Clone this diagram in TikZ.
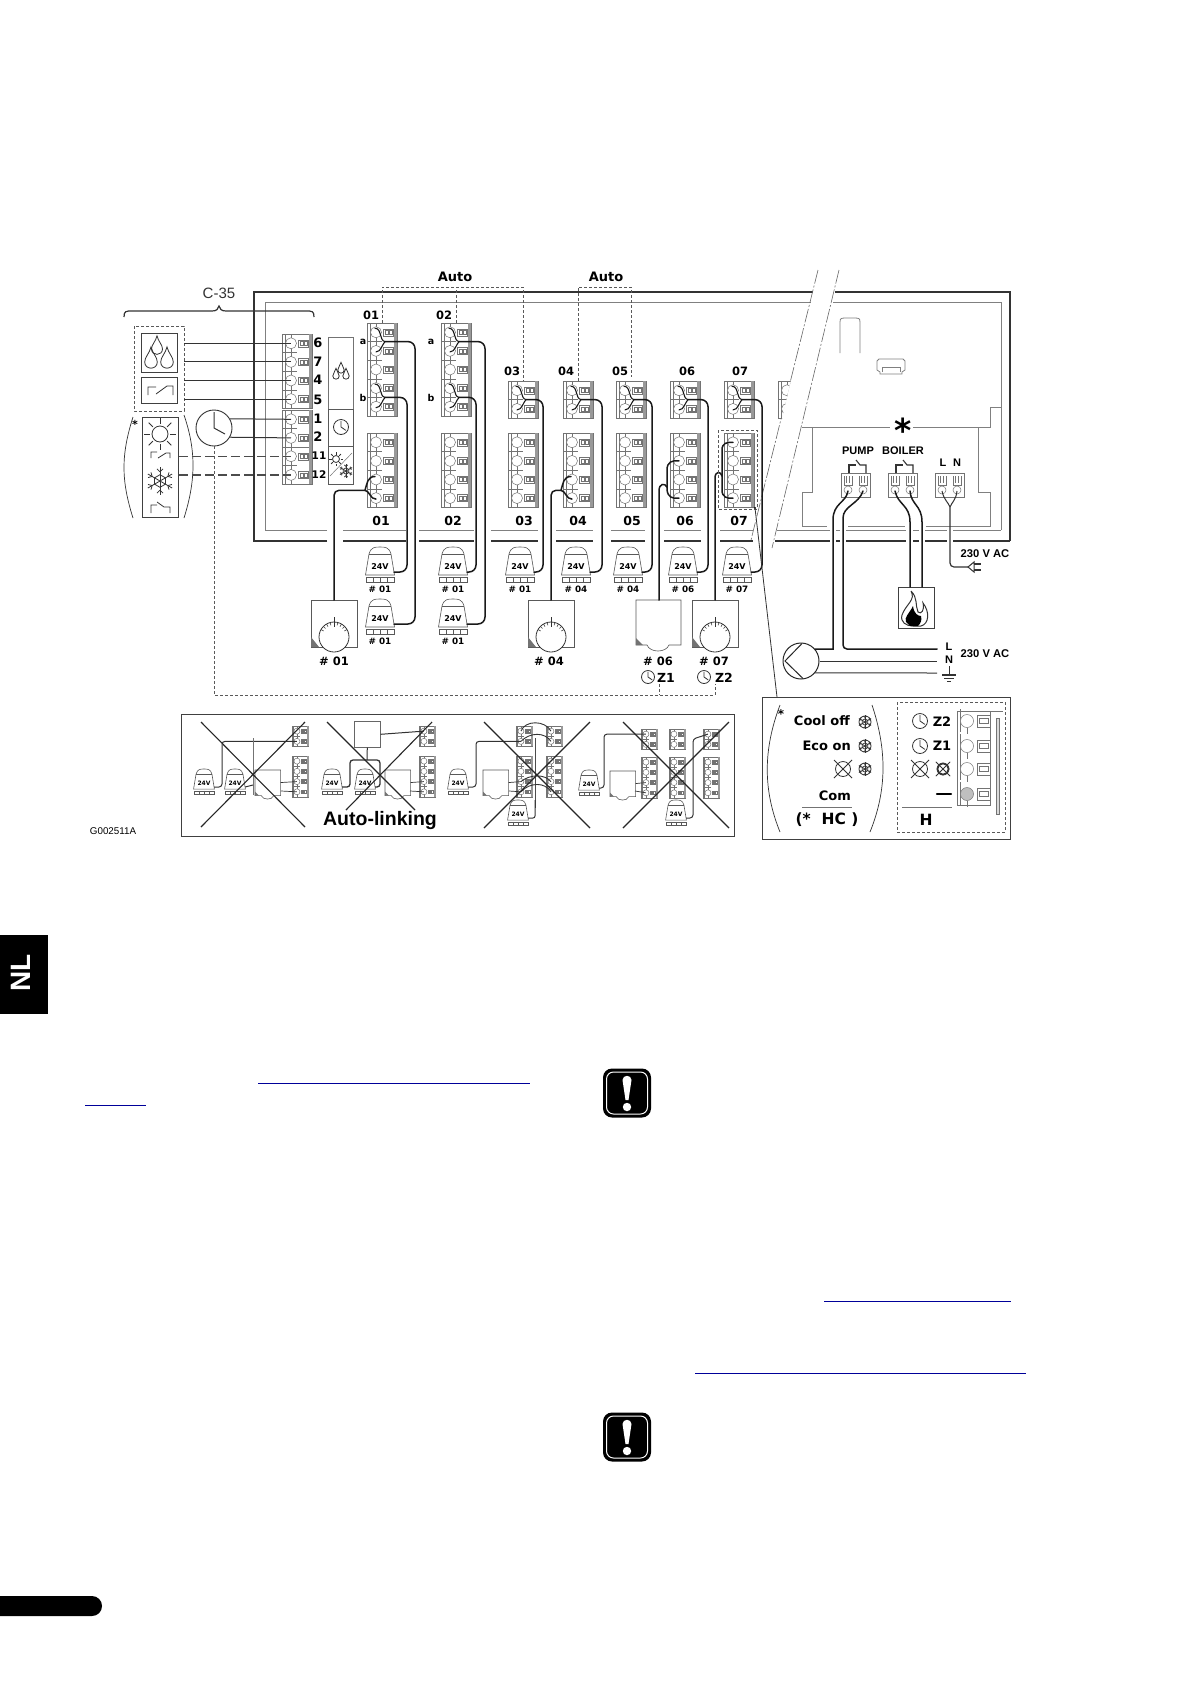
\documentclass[tikz,border=0pt]{standalone}
\usepackage{fontspec}
\setmainfont{DejaVu Sans}
\newfontfamily\libf{Liberation Sans}
\usetikzlibrary{calc}
\newcommand\fb[1]{\fontsize{#1}{#1}\selectfont\bfseries}
\newcommand\fl[1]{\libf\fontsize{#1}{#1}\selectfont\bfseries}
\newcommand\lbl[5]{\node[inner sep=0pt,font=#4] (#1) at (#2,#3) {#5};}
\tikzset{
 tb/.style={draw=black!55,line width=.5pt},
 wire/.style={draw=black!90,line width=1.5pt,line cap=round},
 thinw/.style={draw=black!80,line width=1pt},
 sym/.style={draw=black!80,line width=.8pt},
 act/.style={draw=black!65,line width=.6pt},
 frameo/.style={draw=black!80,line width=1.2pt},
 framei/.style={draw=black!50,line width=.8pt},
 dsh/.style={draw=black!65,line width=.6pt,dash pattern=on 3pt off 2pt},
 ddsh/.style={draw=black!70,line width=1.2pt,dash pattern=on 9pt off 4pt},
 ddot/.style={draw=black!60,line width=.6pt,dash pattern=on 14pt off 2pt on 2pt off 2pt},
 boxn/.style={draw=black!75,line width=.9pt,inner sep=0pt,anchor=north west},
 xline/.style={draw=black!85,line width=1.1pt},
 link/.style={draw=blue!60!black,line width=.9pt},
}
% name, x, y, ports, scale
\newcommand\termblock[5]{%
\begin{scope}[shift={(#2,#3)},x=#5pt,y=-#5pt]
\pgfmathsetmacro\hh{#4*18.6}
\draw[tb,fill=white] (0,0) rectangle (30,\hh);
\fill[black!40] (27,0) rectangle (30,\hh);
\draw[tb] (3,0) -- (3,\hh);
\coordinate (#1-n) at (15,0);
\foreach \i in {1,...,#4}{
 \pgfmathsetmacro\yy{(\i-.5)*18.6}
 \draw[tb] (0,\yy-9.3) -- (15,\yy-9.3);
 \draw[tb] (9,\yy-9.3) -- (9,\yy+9.3);
 \draw[tb,fill=white] (9,\yy) circle (5.5);
 \draw[tb] (16,\yy-3.5) rectangle (26,\yy+3.5);
 \draw[tb] (18,\yy-2) rectangle (21,\yy+2);
 \draw[tb] (22,\yy-2) rectangle (25,\yy+2);
 \coordinate (#1-\i) at (9,\yy);
}
\end{scope}}
% upper port, lower port, merge coordinate name: fork opening to the right
\newcommand\yfork[3]{%
\coordinate (#3) at ($(#1)!.5!(#2)+(9,0)$);
\draw[wire,line width=1.1pt] ($(#1)+(-1,-4)$) .. controls ($(#1)+(6,-4)$) and ($(#3)+(-6,-1)$) .. (#3);
\draw[wire,line width=1.1pt] ($(#2)+(0,1)$) .. controls ($(#2)+(5,1)$) and ($(#3)+(-3,3)$) .. (#3);}
% upper port, lower port, fork coordinate name: fork opening from the left
\newcommand\lfork[3]{%
\coordinate (#3) at ($(#1)!.5!(#2)+(-11,1.5)$);
\draw[wire] (#3) .. controls ($(#3)+(2,-6)$) and ($(#1)+(-9,-3)$) .. ($(#1)+(-1,-3)$);
\draw[wire] (#3) .. controls ($(#3)+(5,1)$) and ($(#2)+(-6,1)$) .. ($(#2)+(0,1)$);}
% name, cx, top, label, scale, font size
\newcommand\actuator[6]{%
\begin{scope}[shift={(#2,#3)},x=#5pt,y=-#5pt]
\draw[act,fill=white] (-14.5,28) -- (-11,7) .. controls (-9,0) and (-5,0) .. (0,0) .. controls (5,0) and (9,0) .. (11,7) -- (14.5,28) -- cycle;
\draw[act] (-11,7) -- (11,7);
\lbl{#1-v}{0}{19.5}{\fb{#6}}{24V}
\draw[act] (-14,30.5) rectangle (14,35.5);
\foreach \d in {-7,0,7}{\draw[act] (\d,30.5) -- (\d,35.5);}
\coordinate (#1-e) at (14,25);
\lbl{#1-l}{0}{42}{\fb{8.8}}{#4}
\end{scope}}
% name, x, y
\newcommand\thermostat[3]{%
\begin{scope}[shift={(#2,#3)}]
\draw[act,fill=white] (0,0) rectangle (46,47);
\fill[black!55] (0,47) -- (0,37) -- (8,47) -- cycle;
\draw[sym,fill=white] (23,37) circle (15);
\foreach \a in {-150,-135,...,-30}{\draw[draw=black!75,line width=.6pt] (23,37) ++(\a:12) -- ++(\a:3);}
\draw[sym] (23,17) -- (23,27);
\coordinate (#1-n) at (23,0);
\end{scope}}
% name, x, y, scale
\newcommand\bumpbox[4]{%
\begin{scope}[shift={(#2,#3)},x=#4pt,y=-#4pt]
\draw[act,fill=white] (0,0) -- (45,0) -- (45,45) -- (33,45) .. controls (30,53) and (14,53) .. (11,45) -- (0,45) -- cycle;
\fill[black!55] (0,45) -- (0,38) -- (7,45) -- cycle;
\coordinate (#1-n) at (23,0);
\coordinate (#1-e) at (45,22);
\end{scope}}
\newcommand\drop[3]{%
\begin{scope}[shift={(#1,#2)},x=#3pt,y=-#3pt]
\draw[sym] (0,-2.4) .. controls (.2,-1.4) and (1,-.8) .. (1,0) .. controls (1,1.3) and (-1,1.3) .. (-1,0) .. controls (-1,-.8) and (-.2,-1.4) .. cycle;
\end{scope}}
\newcommand\sunicon[5]{%
\draw[sym] (#1,#2) circle (#3);
\foreach \a in {0,45,...,315}{\draw[sym] (#1,#2) ++(\a:#4) -- ++(\a:#5-#4);}}
\newcommand\flake[3]{%
\begin{scope}[shift={(#1,#2)},x=#3pt,y=-#3pt]
\foreach \a in {30,90,...,330}{
 \draw[sym] (0,0) -- (\a:1);
 \draw[sym] (\a:.65) -- ++(\a+45:.3);
 \draw[sym] (\a:.65) -- ++(\a-45:.3);
}
\draw[sym] (30:.45) -- (90:.45) -- (150:.45) -- (210:.45) -- (270:.45) -- (330:.45) -- cycle;
\end{scope}}
\newcommand\clockicon[3]{%
\draw[sym] (#1,#2) circle (#3);
\draw[sym] (#1,#2) ++(0,-.8*#3) -- (#1,#2) -- ++(.65*#3,.45*#3);}
\newcommand\xcircle[3]{%
\draw[sym] (#1,#2) circle (#3);
\draw[sym] (#1,#2) ++(-1.2*#3,1.2*#3) -- ++(2.4*#3,-2.4*#3);
\draw[sym] (#1,#2) ++(-1.2*#3,-1.2*#3) -- ++(2.4*#3,2.4*#3);}
\newcommand\warnicon[2]{%
\begin{scope}[shift={(#1,#2)}]
\fill[black,rounded corners=9pt] (-24,-24.5) rectangle (24,24.5);
\draw[white,line width=1pt,rounded corners=7pt] (-20.5,-21) rectangle (20.5,21);
\fill[white] (-4.5,-13) .. controls (-4.5,-18.5) and (4.5,-18.5) .. (4.5,-13) -- (1.5,7) -- (-1.5,7) -- cycle;
\fill[white] (0,14) circle (4.2);
\end{scope}}
% name, x, y
\newcommand\relterm[3]{%
\begin{scope}[shift={(#2,#3)}]
\draw[tb,line width=.7pt] (0,0) rectangle (29,24.5);
\draw[tb] (3,3) -- (3,12) -- (11,12) -- (11,3) (5.5,3) -- (5.5,10) (8.5,3) -- (8.5,10);
\draw[tb] (18,3) -- (18,12) -- (26,12) -- (26,3) (20.5,3) -- (20.5,10) (23.5,3) -- (23.5,10);
\draw[tb,fill=white] (7,17) circle (4);
\draw[tb,fill=white] (22,17) circle (4);
\coordinate (#1-1) at (7,18);
\coordinate (#1-2) at (22,18);
\end{scope}}
\newcommand\relsw[1]{%
\begin{scope}[shift={(#1,473)}]
\draw[sym,line width=1.1pt] (8,0) -- (8,-8) -- (15,-8);
\draw[sym,line width=1.1pt] (15,-13) -- (19,-8) -- (25,-8) -- (25,0);
\end{scope}}
\begin{document}
\begin{tikzpicture}[x=1pt,y=-1pt]
\useasboundingbox (0,0) rectangle (1190,1684);
\fill[white] (0,0) rectangle (1190,1684);
%%% outer page furniture
\fill[black] (0,935) rectangle (48,1014);
\node[inner sep=0pt,rotate=90,text=white,font=\fl{28}] (nltab) at (21,973) {NL};
\draw[link] (258,1083) -- (530,1083);
\draw[link] (85,1105) -- (146,1105);
\draw[link] (824,1301) -- (1011,1301);
\draw[link] (695,1373) -- (1026,1373);
\warnicon{627}{1093}
\warnicon{627}{1437}
\fill[black,rounded corners=9.9pt] (-20,1596) rectangle (102,1616);
%%% frames
\draw[frameo] (327,541) -- (254,541) -- (254,292) -- (813,292);
\draw[framei] (327,530) -- (265,530) -- (265,302) -- (811,302);
\draw[frameo] (835,292) -- (1010,292) -- (1010,541);
\draw[framei] (833,302) -- (1001,302) -- (1001,530);
\foreach \a/\b in {343/406,419/474,491/538,556/593,611/645,664/701,720/753,775/830,836/840,846/906,913/919,925/947,953/1010}{
 \draw[frameo] (\a,541) -- (\b,541);
}
\foreach \a/\b in {343/406,419/474,491/538,556/593,611/645,664/701,720/753,777/830,836/840,846/906,913/919,925/947,953/1001}{
 \draw[framei] (\a,530) -- (\b,530);
}
%%% right interior
\draw[framei] (802,427) -- (890,427);
\draw[framei] (913,427) -- (990,427) -- (990,407) -- (1001,407);
\draw[framei] (812,427) -- (812,492) -- (802,492) -- (802,526) -- (827,526);
\draw[framei] (848,526) -- (905,526) (926,526) -- (990,526) -- (990,492) -- (978,492) -- (978,427);
\draw[framei] (840,353) -- (840,322) .. controls (840,318) and (842,318) .. (844,318) -- (856,318) .. controls (858,318) and (860,318) .. (860,322) -- (860,353);
\draw[framei] (880,374) -- (880,372) -- (877,370) -- (877,361) -- (879,359) -- (903,359) -- (905,361) -- (905,370) -- (902,372) -- (902,374) -- cycle;
\draw[framei] (882,372) -- (882,367) -- (900,367) -- (900,372);
\draw[ddot] (818,270) -- (751,540);
\draw[ddot] (839,270) -- (772,548);
\lbl{bigstar}{903}{430.5}{\fb{33}}{*}
\lbl{lpump}{858}{451}{\fl{11}}{PUMP}
\lbl{lboiler}{903}{451}{\fl{11}}{BOILER}
\lbl{lL}{943}{463}{\fl{11}}{L}
\lbl{lN}{957}{463}{\fl{11}}{N}
\relterm{rp}{841}{473}
\relterm{rb}{888}{473}
\relterm{rl}{935}{473}
\relsw{841}
\relsw{888}
%%% boiler
\node[boxn,minimum width=36pt,minimum height=41pt] (boiler) at (898,587) {};
\draw[sym,line width=1pt,fill=white] (911,591) .. controls (916,600) and (906,604) .. (902,615) .. controls (900,622) and (906,626) .. (913,626) -- (921,626) .. controls (929,624) and (930,612) .. (923,603) .. controls (925,610) and (921,615) .. (918,612) .. controls (915,605) and (918,598) .. (911,591);
\fill[black] (906,622) .. controls (904,617) and (909,614) .. (913,606) .. controls (914,614) and (918,616) .. (921,616) .. controls (922,620) and (921,623) .. (918,626) -- (910,626) -- cycle;
\draw[wire] (rb-1) .. controls (898,505) and (910,505) .. (910,522) -- (boiler.north west -| 910,0);
\draw[wire] (rb-2) .. controls (911,505) and (922,505) .. (922,522) -- (boiler.north west -| 922,0);
%%% pump
\node[draw=black!85,line width=1pt,circle,inner sep=0pt,minimum size=36pt] (pumpc) at (801,661) {};
\draw[black!85,line width=1pt] (802,643.5) -- (785,661) -- (803,678.5);
\coordinate (lineL) at (937,649);
\coordinate (lineN) at (937,661);
\coordinate (lineE) at (937,673);
\draw[wire] (rp-1) .. controls (846,503) and (833,503) .. (833,520) |- (pumpc.40);
\draw[wire,rounded corners=4pt] (rp-2) .. controls (859,504) and (843,506) .. (843,522) |- (lineL);
\draw[thinw] (pumpc.east) -- (lineN);
\draw[thinw] (pumpc.-40) -- (lineE);
\lbl{mL}{949}{647}{\fl{11}}{L}
\lbl{mN}{949}{660}{\fl{11}}{N}
\draw[thinw] (949,666) -- (949,675);
\draw[thinw,line width=1.3pt] (942,675) -- (956,675);
\draw[thinw] (944,678) -- (954,678);
\draw[thinw] (947,681) -- (951,681);
\lbl{v230b}{985}{654}{\fl{11.2}}{230 V AC}
\lbl{v230a}{985}{554}{\fl{11.2}}{230 V AC}
%%% mains plug
\coordinate (lnm) at (950,507);
\coordinate (plug) at (968,567);
\draw[thinw] (rl-1) .. controls (944,500) and (948,502) .. (lnm);
\draw[thinw] (rl-2) .. controls (956,500) and (952,502) .. (lnm);
\draw[thinw,line width=1.2pt,rounded corners=4pt] (lnm) |- (plug);
\draw[thinw,fill=white] (plug) -- (974,562) -- (974,572) -- cycle;
\draw[thinw,line width=1.2pt] (974,564) -- (981,564) (974,570) -- (981,570);
%%% left side
\draw[dsh] (134,326) rectangle (184,411);
\coordinate (dashe) at (184,343);
\node[boxn,minimum width=36pt,minimum height=39pt] (bxdrop) at (141,333) {};
\drop{157}{349}{5.5}
\drop{151}{362}{6.3}
\drop{167}{362}{6.3}
\node[boxn,minimum width=36pt,minimum height=26pt] (bxsw) at (141,377) {};
\draw[sym] (148,395) -- (148,387) -- (156,387) (156,394) -- (167,386) -- (173,386) -- (173,395);
\node[boxn,minimum width=36pt,minimum height=100pt] (bxcool) at (142,417) {};
\sunicon{160}{434}{8}{10}{16}
\draw[sym] (151,458) -- (151,452) -- (157,452) (158,458) -- (166,453) -- (170,453) -- (170,458);
\flake{160}{481}{14}
\draw[sym] (151,513) -- (151,505) -- (157,505) (157,502) -- (164,507) -- (170,507) -- (170,513);
\draw[thinw,line width=.7pt] (133,518) .. controls (121,480) and (121,455) .. (133,417);
\draw[thinw,line width=.7pt] (184,518) .. controls (196,480) and (196,450) .. (184,415);
\lbl{lstarl}{135}{424}{\fb{11}}{*}
\node[draw=black!80,line width=.9pt,circle,inner sep=0pt,minimum size=36pt] (clk) at (214,428) {};
\draw[sym,line width=1pt] (214,412) -- (214,428) -- (225,434);
\lbl{c35}{219}{293}{\libf\fontsize{15}{15}\selectfont\color{black!80}}{C-35}
\draw[thinw,line width=1.2pt] (124,317) .. controls (124,311) and (126,311) .. (132,311) -- (212,311) .. controls (217,311) and (218,309) .. (219,306) .. controls (220,309) and (221,311) .. (226,311) -- (306,311) .. controls (312,311) and (314,311) .. (314,317);
\termblock{tl1}{282}{334}{4}{1}
\termblock{tl2}{282}{410}{2}{1}
\termblock{tl3}{282}{447}{2}{1}
\draw[thinw] (tl1-1 -| dashe) -- (tl1-1);
\draw[thinw] (tl1-2 -| dashe) -- (tl1-2);
\draw[thinw] (tl1-3 -| dashe) -- (tl1-3);
\draw[thinw,line width=.6pt] (tl1-4 -| dashe) -- (tl1-4);
\draw[thinw] (clk.30) -- (tl2-1);
\draw[thinw] (clk.-30) -- (tl2-2);
\draw[ddsh] (tl3-1 -| bxcool.east) -- (tl3-1);
\draw[ddsh] (tl3-2 -| bxcool.east) -- (tl3-2);
\lbl{n6}{318}{343}{\fb{13}}{6}
\lbl{n7}{318}{362}{\fb{13}}{7}
\lbl{n4}{318}{380}{\fb{13}}{4}
\lbl{n5}{318}{400}{\fb{13}}{5}
\lbl{n1}{318}{419}{\fb{13}}{1}
\lbl{n2}{318}{437}{\fb{13}}{2}
\lbl{n11}{319}{456}{\fb{10.5}}{11}
\lbl{n12}{319}{475}{\fb{10.5}}{12}
\draw[tb,line width=.7pt] (328,337) rectangle (353,409);
\draw[act,line width=.8pt] (328,409) rectangle (353,446);
\draw[act,line width=.6pt] (328,446) rectangle (353,484);
\drop{341}{370}{3.2}
\drop{336}{376}{3.2}
\drop{346}{376}{3.2}
\clockicon{341}{427}{7.5}
\sunicon{336}{459}{3.5}{4.5}{7}
\flake{346}{471}{7}
\draw[tb] (330,476) -- (352,453);
%%% dashed auto links
\lbl{auto1}{455}{277}{\fb{13}}{Auto}
\lbl{auto2}{606}{277}{\fb{13}}{Auto}
%%% terminal blocks
\termblock{ta1}{367}{323}{5}{1}
\termblock{ta2}{441}{323}{5}{1}
\termblock{tc1}{367}{433}{4}{1}
\termblock{tc2}{441}{433}{4}{1}
\termblock{tu3}{508}{381}{2}{1}\termblock{tc3}{508}{433}{4}{1}
\termblock{tu4}{563}{381}{2}{1}\termblock{tc4}{563}{433}{4}{1}
\termblock{tu5}{616}{381}{2}{1}\termblock{tc5}{616}{433}{4}{1}
\termblock{tu6}{670}{381}{2}{1}\termblock{tc6}{670}{433}{4}{1}
\termblock{tu7}{724}{381}{2}{1}\termblock{tc7}{724}{433}{4}{1}
\begin{scope}
\clip (776,379) -- (791,379) -- (782,419) -- (776,419) -- cycle;
\termblock{tu8}{778}{381}{2}{1}
\end{scope}
\coordinate (abus) at (523,287);
\coordinate (abus2) at (631,287);
\draw[dsh] (ta1-n) |- (abus) -- (tu3-n);
\draw[dsh] (ta2-n) -- (ta2-n |- abus);
\draw[dsh] (tu4-n) |- (abus2) -- ($(tu5-n)+(0,-4)$);
\lbl{ta1t}{371}{315}{\fb{11.5}}{01}
\lbl{ta2t}{444}{315}{\fb{11.5}}{02}
\lbl{tu3t}{512}{371}{\fb{11.5}}{03}
\lbl{tu4t}{566}{371}{\fb{11.5}}{04}
\lbl{tu5t}{620}{371}{\fb{11.5}}{05}
\lbl{tu6t}{687}{371}{\fb{11.5}}{06}
\lbl{tu7t}{740}{371}{\fb{11.5}}{07}
\lbl{la1}{363}{342}{\fb{9.5}}{a}
\lbl{lb1}{363}{398}{\fb{9.5}}{b}
\lbl{la2}{431}{342}{\fb{9.5}}{a}
\lbl{lb2}{431}{398}{\fb{9.5}}{b}
\lbl{tc1t}{381}{521}{\fb{12.5}}{01}
\lbl{tc2t}{453}{521}{\fb{12.5}}{02}
\lbl{tc3t}{524}{521}{\fb{12.5}}{03}
\lbl{tc4t}{578}{521}{\fb{12.5}}{04}
\lbl{tc5t}{632}{521}{\fb{12.5}}{05}
\lbl{tc6t}{685}{521}{\fb{12.5}}{06}
\lbl{tc7t}{739}{521}{\fb{12.5}}{07}
%%% actuators
\actuator{a1a}{380}{547}{\# 01}{1}{8}
\actuator{a1b}{380}{599}{\# 01}{1}{8}
\actuator{a2a}{453}{547}{\# 01}{1}{8}
\actuator{a2b}{453}{599}{\# 01}{1}{8}
\actuator{a3}{520}{547}{\# 01}{1}{8}
\actuator{a4}{576}{547}{\# 04}{1}{8}
\actuator{a5}{628}{547}{\# 04}{1}{8}
\actuator{a6}{683}{547}{\# 06}{1}{8}
\actuator{a7}{737}{547}{\# 07}{1}{8}
%%% thermostats
\thermostat{th1}{311}{600}
\thermostat{th4}{528}{600}
\thermostat{th7}{692}{600}
\bumpbox{th6}{636}{600}{1}
\lbl{th1l}{334}{661}{\fb{11.5}}{\# 01}
\lbl{th4l}{549}{661}{\fb{11.5}}{\# 04}
\lbl{th6l}{658}{661}{\fb{11.5}}{\# 06}
\lbl{th7l}{714}{661}{\fb{11.5}}{\# 07}
\clockicon{648}{677}{6.5}
\clockicon{704}{677}{6.5}
\lbl{z1t}{666}{678}{\fb{12.5}}{Z1}
\lbl{z2t}{724}{678}{\fb{12.5}}{Z2}
%%% wires to actuators
\yfork{ta1-1}{ta1-2}{ma1}
\yfork{ta1-4}{ta1-5}{mb1}
\yfork{ta2-1}{ta2-2}{ma2}
\yfork{ta2-4}{ta2-5}{mb2}
\draw[wire,rounded corners=7pt] (ma1) -| ($(a1b-e)+(21,0)$) -- (a1b-e);
\draw[wire,rounded corners=7pt] (mb1) -| ($(a1a-e)+(13,0)$) -- (a1a-e);
\draw[wire,rounded corners=7pt] (ma2) -| ($(a2b-e)+(18,0)$) -- (a2b-e);
\draw[wire,rounded corners=7pt] (mb2) -| ($(a2a-e)+(9,0)$) -- (a2a-e);
\foreach \n/\a/\d in {3/3/9,4/4/12,5/5/10,6/6/11,7/7/11}{
 \yfork{tu\n-1}{tu\n-2}{mu\n}
 \draw[wire,rounded corners=7pt] (mu\n) -| ($(a\a-e)+(\d,0)$) -- (a\a-e);
}
%%% thermostat wires
\lfork{tc1-3}{tc1-4}{f1}
\draw[wire,rounded corners=5pt] (th1-n) |- (f1);
\lfork{tc4-3}{tc4-4}{f4}
\draw[wire,rounded corners=5pt] (th4-n) |- (f4);
\coordinate (f6) at (667,487);
\draw[wire] (th6-n) -- (659,491) .. controls (659,483) and (665,483) .. (f6);
\draw[wire] (f6) -- (667,470) .. controls (667,462) and (672,460) .. (tc6-2);
\draw[wire] (f6) -- (667,490) .. controls (668,497) and (672,499) .. (tc6-4);
\coordinate (f7) at (722,476);
\draw[wire] (th7-n) -- (715,478) .. controls (715,471) and (721,471) .. (f7);
\draw[wire] (f7) -- (722,450) .. controls (722,443) and (727,442) .. (tc7-1);
\draw[wire] (f7) -- (722,490) .. controls (722,497) and (727,499) .. (tc7-4);
%%% long dashed bus from clock
\coordinate (z1end) at (659,684);
\coordinate (z2end) at (715,684);
\coordinate (dbus) at (715,695);
\draw[dsh] (clk.south) |- (dbus) -- (z2end);
\draw[dsh] (z1end) -- (z1end |- dbus);
\draw[dsh] (718,430) rectangle (757,509);
%%% detail box
\node[boxn,minimum width=248pt,minimum height=142pt] (detail) at (762,697) {};
\coordinate (dot7) at (755,508);
\fill[black] (dot7) circle (1.2);
\draw[thinw,line width=.8pt] (dot7) -- (777,697);
\draw[thinw,line width=.7pt] (780,705) .. controls (763,750) and (763,790) .. (780,832);
\draw[thinw,line width=.7pt] (872,705) .. controls (887,750) and (887,790) .. (870,832);
\lbl{dstar}{781}{714}{\fb{12}}{*}
\node[inner sep=0pt,anchor=east,font=\fb{13}] (cooloff) at (850,721) {Cool off};
\node[inner sep=0pt,anchor=east,font=\fb{13}] (ecoon) at (851,746) {Eco on};
\node[inner sep=0pt,anchor=east,font=\fb{13}] (comt) at (851,796) {Com};
\flake{865}{722}{7}
\flake{865}{746}{7}
\flake{865}{769}{7}
\draw[sym] (865,722) circle (6);
\draw[sym] (865,746) circle (6);
\draw[sym] (865,769) circle (6);
\xcircle{843}{769}{7.5}
\draw[tb,line width=.7pt] (802,807) -- (852,807);
\lbl{hct}{827}{820}{\fb{15.5}}{(*\ \ HC\ )}
\draw[dsh] (897,702) rectangle (1005,832);
\clockicon{920}{721}{7.5}
\clockicon{920}{746}{7.5}
\xcircle{920}{769}{7.5}
\xcircle{943}{769}{6}
\draw[sym,line width=1.5pt] (943,769) circle (5.5);
\lbl{dz2}{942}{722}{\fb{13}}{Z2}
\lbl{dz1}{942}{746}{\fb{13}}{Z1}
\draw[black,line width=2.4pt,line cap=round] (937,794) -- (951,794);
\draw[tb,line width=.7pt] (902,807) -- (952,807);
\lbl{hh}{926}{820}{\fb{15.5}}{H}
\draw[tb] (957,711) rectangle (990,805);
\draw[tb] (957,711) -- (1003,711);
\foreach \yy/\cc in {721/white,746/white,769/white,794/black!25}{
 \draw[tb] (960,\yy-12) -- (960,\yy+11);
 \draw[tb] (967,\yy+7) -- (967,\yy+13);
 \draw[tb,fill=\cc] (967,\yy) circle (6.5);
 \draw[tb] (977,\yy-6) rectangle (990,\yy+6);
 \draw[tb] (979,\yy-2.5) rectangle (988,\yy+2.5);
}
\draw[tb,fill=black!15] (996,718) rectangle (999,814);
%%% auto-linking box
\node[boxn,minimum width=553pt,minimum height=122pt] (autobox) at (181,714) {};
\lbl{autolink}{380}{820}{\fl{19.5}}{Auto-linking}
\lbl{gcode}{113}{831}{\libf\fontsize{9.8}{9.8}\selectfont}{G002511A}
% panel 1
\actuator{p1a}{204}{769}{}{.72}{6}
\actuator{p1b}{235}{769}{}{.72}{6}
\bumpbox{p1t}{255}{770}{.57}
\termblock{p1u}{292}{726}{2}{.55}
\termblock{p1c}{292}{756}{4}{.55}
\draw[thinw,rounded corners=3pt] (p1a-e) -- (222,787) |- (p1u-2);
\draw[thinw,draw=black!55] (253,738) -- (253,795);
\draw[thinw] (p1b-e) -- (253,785);
\draw[thinw,line width=.7pt] (p1t-e) -- (p1c-3);
\draw[thinw,line width=.7pt] (281,791) -- (p1c-4);
\draw[xline] (201,722) -- (305,827) (201,827) -- (305,722);
% panel 2
\actuator{p2a}{332}{769}{}{.72}{6}
\actuator{p2b}{365}{769}{}{.72}{6}
\node[boxn,minimum width=26pt,minimum height=26pt,draw=black!60,line width=.6pt] (p2box) at (354,721) {};
\bumpbox{p2t}{385}{770}{.57}
\termblock{p2u}{419}{726}{2}{.55}
\termblock{p2c}{419}{756}{4}{.55}
\draw[thinw] (p2box.east) -- (p2u-1);
\draw[thinw] (p2box.south) -- (367,760);
\draw[thinw,line width=1.3pt,rounded corners=3pt] (p2a-e) -- (350,787) -- (350,760) -- (380,760) -- (380,787) -- (p2b-e);
\draw[thinw,line width=.7pt] (p2t-e) -- (p2c-3);
\draw[thinw,line width=.7pt] (410,791) -- (p2c-4);
\draw[xline] (327,722) -- (415,810) (346,810) -- (432,722);
% panel 3
\actuator{p3a}{458}{769}{}{.72}{6}
\actuator{p3b}{518}{800}{}{.72}{6}
\bumpbox{p3t}{483}{770}{.57}
\termblock{p3u1}{516}{726}{2}{.55}
\termblock{p3u2}{546}{726}{2}{.55}
\termblock{p3c1}{516}{756}{4}{.55}
\termblock{p3c2}{546}{756}{4}{.55}
\draw[thinw,rounded corners=3pt] (p3a-e) -- (476,787) |- (p3u1-2);
\draw[thinw,line width=.9pt] (p3u1-1) .. controls (525,720) and (545,720) .. (p3u2-1);
\draw[thinw,line width=.9pt] (p3u1-2) .. controls (530,732) and (545,732) .. (p3u2-2);
\draw[thinw,draw=black!70] (535,738) -- (535,808);
\draw[thinw,rounded corners=2pt] (535,800) -- (535,818) -- (p3b-e);
\draw[thinw,line width=.7pt] (p3t-e) -- (p3c1-3);
\draw[thinw,line width=.7pt] (509,791) -- (p3c1-4);
\draw[thinw,line width=.9pt] (p3c1-3) .. controls (530,774) and (545,774) .. (p3c2-3);
\draw[thinw,line width=.9pt] (p3c1-4) .. controls (530,782) and (545,782) .. (p3c2-4);
\draw[xline] (484,722) -- (590,828) (484,828) -- (590,722);
% panel 4
\actuator{p4a}{589}{770}{}{.72}{6}
\actuator{p4b}{676}{800}{}{.72}{6}
\bumpbox{p4t}{610}{771}{.57}
\termblock{p4u1}{641}{729}{2}{.55}
\termblock{p4u2}{669}{729}{2}{.55}
\termblock{p4u3}{703}{729}{2}{.55}
\termblock{p4c1}{641}{757}{4}{.55}
\termblock{p4c2}{669}{757}{4}{.55}
\termblock{p4c3}{703}{757}{4}{.55}
\draw[thinw,rounded corners=3pt] (p4a-e) -- (604,788) |- (p4u1-1);
\draw[thinw,rounded corners=3pt] (p4b-e) -- (693,818) -- (693,739) -- (p4u3-1);
\draw[thinw,line width=.7pt] (p4t-e) -- (p4c1-3);
\draw[thinw,line width=.7pt] (635,791) -- (p4c1-4);
\draw[xline] (623,722) -- (729,828) (623,828) -- (729,722);
\end{tikzpicture}
\end{document}
